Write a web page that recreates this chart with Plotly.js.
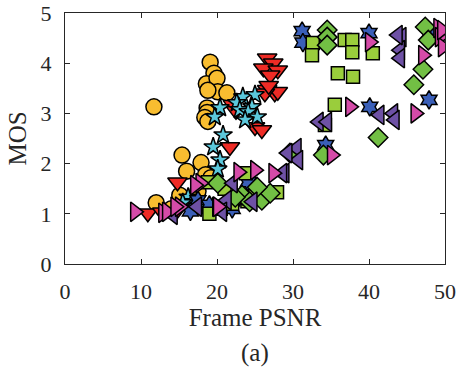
<!DOCTYPE html>
<html><head><meta charset="utf-8">
<script src="https://cdn.plot.ly/plotly-3.0.1.min.js"></script>
<style>html,body{margin:0;padding:0;background:#fff}#plot{width:460px;height:372px}</style>
</head><body><div id="plot"></div>
<script>
// Series: circles (orange)
const circX = [11.7,19.1,19.6,18.6,20.0,20.1,21.3,18.8,18.7,18.7,18.4,18.8,15.4,16.0,17.9,18.5,19.2,15.1,12.0,14.0,16.5,17.5];
const circY = [3.13,4.02,3.80,3.59,3.70,3.43,3.41,3.46,3.11,3.02,2.92,2.84,2.17,1.85,2.02,1.78,1.72,1.37,1.22,1.10,1.25,1.45];
// cyan stars
const starX = [23.4,25.0,22.6,24.6,23.0,24.1,25.3,23.7,20.4,19.7,20.8,19.5,20.4,20.1,16.2,16.7,15.5,17.5];
const starY = [3.33,3.37,3.21,3.13,3.07,3.03,2.93,2.87,3.11,2.93,2.57,2.33,2.07,1.89,1.33,1.24,1.22,1.15];
// red down triangles
const redX = [26.6,27.4,26.1,28.0,27.0,26.6,27.6,28.0,26.3,26.8,25.0,25.9,22.1,22.5,21.7,14.8,10.9,12.8,14.5];
const redY = [4.10,4.00,3.90,3.86,3.76,3.47,3.40,3.43,3.40,3.55,2.73,2.67,3.17,3.05,2.33,1.63,1.01,1.03,1.02];
// blue hexagrams
const hexX = [31.2,31.3,34.3,40.1,40.0,47.9,48.0,24.1,17.5,19.0,16.5,22.0];
const hexY = [4.64,4.41,2.37,3.13,4.60,3.27,4.60,1.63,1.27,1.18,1.05,1.10];
// green squares
const sqX = [32.6,32.5,36.8,37.8,37.8,35.9,37.9,40.5,35.5,34.2,27.9,23.8,18.8,19.0,20.5,22.0,24.0,25.0,21.0];
const sqY = [4.40,4.16,4.46,4.46,4.22,3.80,3.73,4.20,3.17,2.77,1.43,1.81,1.63,1.00,1.10,1.20,1.25,1.35,1.50];
// green diamonds
const diaX = [34.5,34.5,34.5,47.1,45.9,41.2,47.4,47.8,20.1,23.3,24.3,25.9,27.0,25.3,29.6,34.0,22.4];
const diaY = [4.66,4.52,4.36,3.88,3.57,2.52,4.72,4.46,1.61,1.37,1.24,1.27,1.41,1.53,2.21,2.17,1.33];
// purple left triangles
const purX = [44.3,44.1,44.1,43.8,33.4,34.5,41.4,43.2,43.4,30.5,30.7,22.1,24.7,29.3,28.9,21.3,28.6,20.7,17.4,14.2];
const purY = [4.52,4.26,4.10,4.56,2.83,2.83,2.97,3.00,2.87,2.31,2.07,1.61,1.24,2.21,1.81,1.27,1.81,1.04,1.14,0.98];
// pink right triangles
const pinkX = [40.1,37.5,46.1,47.1,49.1,49.3,49.7,49.6,35.1,25.0,27.4,22.8,17.8,20.0,15.1,12.9,17.1,9.2,13.4,14.5,20.1];
const pinkY = [4.42,3.13,3.00,4.16,4.70,4.52,4.32,4.66,2.17,1.87,1.81,1.83,1.61,1.14,1.14,1.02,1.57,1.04,1.04,1.14,1.14];

const line = {color:'#000', width:1.5};
function tr(x,y,symbol,color,size){
  return {x:x,y:y,type:'scatter',mode:'markers',hoverinfo:'skip',
    marker:{symbol:symbol,color:color,size:size,line:line}};
}
const data = [
  tr(circX,circY,'circle','#F8BD30',16),
  tr(redX,redY,'triangle-down','#EE2B25',17),
  tr(starX,starY,'star','#5BC8DC',14),
  tr(hexX,hexY,'hexagram','#3A5FB8',14),
  tr(sqX,sqY,'square','#9ACD3C',13),
  tr(diaX,diaY,'diamond','#72BF44',15),
  tr(purX,purY,'triangle-left','#6E51A5',17),
  tr(pinkX,pinkY,'triangle-right','#D54BA8',17)
];
const fam = 'Times New Roman, Liberation Serif, serif';
const tickFont = {family:fam, size:22, color:'#262626'};
const titleFont = {family:fam, size:25, color:'#262626'};
const layout = {
  width:460, height:372, showlegend:false,
  paper_bgcolor:'#fff', plot_bgcolor:'#fff', font:tickFont,
  margin:{l:65,r:15,t:13,b:108},
  xaxis:{range:[0,50], tickvals:[0,10,20,30,40,50], ticks:'inside', ticklen:5, tickcolor:'#262626',
    tickfont:tickFont, ticklabelstandoff:8,
    showline:true, linecolor:'#262626', linewidth:1, mirror:'ticks', showgrid:false, zeroline:false,
    title:{text:'Frame PSNR', font:titleFont, standoff:5}},
  yaxis:{range:[0,5], tickvals:[0,1,2,3,4,5], ticks:'inside', ticklen:5, tickcolor:'#262626',
    tickfont:tickFont, ticklabelstandoff:8,
    showline:true, linecolor:'#262626', linewidth:1, mirror:'ticks', showgrid:false, zeroline:false,
    title:{text:'MOS', font:titleFont, standoff:6}},
  annotations:[{text:'(a)', xref:'paper', yref:'paper', x:0.5, y:-0.355, xanchor:'center', yanchor:'middle', showarrow:false, font:titleFont}]
};
Plotly.newPlot('plot', data, layout, {displayModeBar:false, staticPlot:true});
</script></body></html>
